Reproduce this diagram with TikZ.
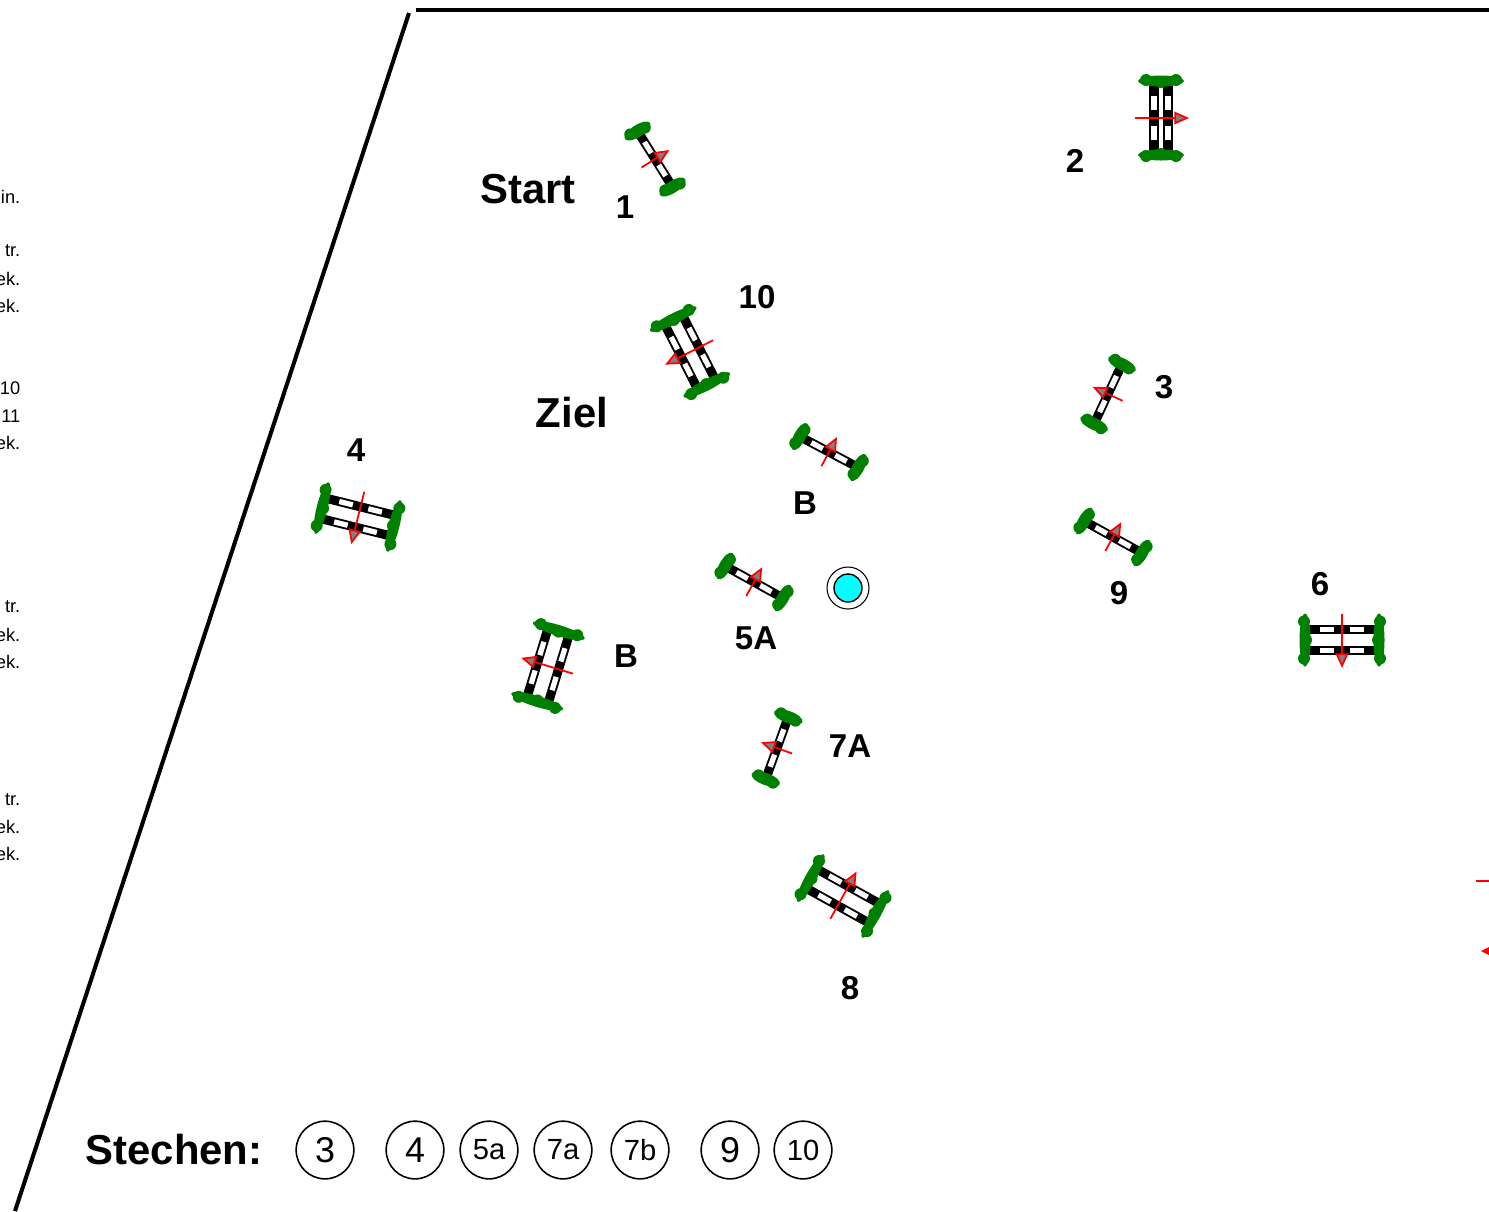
\documentclass[tikz,border=0pt]{standalone}
\usepackage{fontspec}
\setmainfont{Liberation Sans}
\usepackage{tikz}
\usetikzlibrary{arrows.meta}
\usetikzlibrary{positioning}
\tikzset{
    stange/.style={line width=2.6pt, color=black},
    stangeweiss/.style={line width=1.5pt, color=white},
    hecke/.style={fill=MyHecke, draw=none},
    richtung/.style={
      color=red,
      line width=0.5pt,
      -{Triangle[length=4.2pt,width=3.6pt,fill=gray]}
    },
    nummer/.style={font=\fontsize{9.4pt}{10pt}\selectfont\bfseries, inner sep=0pt},
    titel/.style={font=\fontsize{11.9pt}{13pt}\selectfont\bfseries, inner sep=0pt},
    rest/.style={font=\fontsize{5.2pt}{6pt}\selectfont, anchor=east, inner sep=0pt},
    stechen/.style={
      circle,
      draw,
      line width=0.45pt,
      minimum size=16.4pt,
      inner sep=0pt,
      font=\fontsize{10.2pt}{11pt}\selectfont
    },
    stechenklein/.style={stechen, font=\fontsize{8.3pt}{9pt}\selectfont},
    pics/steil/.style={code={
      \draw[stange] (0,-31) -- (0,31);
      \draw[stangeweiss] (0,-20) -- (0,-7) (0,7) -- (0,20);
      \fill[hecke] (0,-33) ellipse (15 and 6) (-8,-34) circle (6) (8,-32) circle (6);
      \fill[hecke] (0,33) ellipse (15 and 6) (-8,32) circle (6) (8,34) circle (6);
      \draw[richtung] (-16,0) -- (17,0);
    }},
    pics/oxer/.style={code={
      \draw[stange] (-#1,-35) -- (-#1,35) (#1,-35) -- (#1,35);
      \draw[stangeweiss] (-#1,-22) -- (-#1,-8) (-#1,8) -- (-#1,22)
                         (#1,-22) -- (#1,-8) (#1,8) -- (#1,22);
      \fill[hecke] (0,-37) ellipse ({#1+16} and 5.5) (-#1-8,-38) circle (6) (0,-36) circle (6) (#1+8,-38) circle (6);
      \fill[hecke] (0,37) ellipse ({#1+16} and 5.5) (-#1-8,38) circle (6) (0,36) circle (6) (#1+8,38) circle (6);
      \draw[richtung] (-26,0) -- (28,0);
    }},
}
\definecolor{MyHecke}{rgb}{0.0,0.5,0.0}
\definecolor{MyWasser}{rgb}{0.0,1.0,1.0}

\begin{document}
\begin{tikzpicture}[x=0.01cm,y=-0.01cm]
    \useasboundingbox (0,0) rectangle (1489,1211);

    % Platzrand
    \draw[line width=1.15pt] (416,10) -- (1489,10);
    \draw[line width=1.15pt] (409,13) -- (15,1211);

    % abgeschnittener Text links
    \draw (21,197) node[rest] (R1) {in.};
    \draw (21,251) node[rest] (R2) {tr.};
    \draw (21,279) node[rest] (R3) {ek.};
    \draw (21,306) node[rest] (R4) {ek.};
    \draw (21,388) node[rest] (R5) {10};
    \draw (21,416) node[rest] (R6) {11};
    \draw (21,443) node[rest] (R7) {ek.};
    \draw (21,607) node[rest] (R8) {tr.};
    \draw (21,635) node[rest] (R9) {ek.};
    \draw (21,662) node[rest] (R10) {ek.};
    \draw (21,800) node[rest] (R11) {tr.};
    \draw (21,827) node[rest] (R12) {ek.};
    \draw (21,854) node[rest] (R13) {ek.};

    % Hindernisse
    \pic[rotate=32] at (655,159) {steil};
    \pic[rotate=0] at (1161,118) {oxer=7};
    \pic[rotate=155] at (1108,394) {steil};
    \pic[rotate=-104] at (358,517) {oxer=10.5};
    \pic[rotate=61] at (754,582) {steil};
    \pic[rotate=62] at (829,452) {steil};
    \pic[rotate=-90] at (1342,640) {oxer=10.5};
    \pic[rotate=160] at (777,748) {steil};
    \pic[rotate=61] at (843,896) {oxer=11};
    \pic[rotate=61] at (1113,537) {steil};
    \pic[rotate=207] at (690,352) {oxer=10};
    \pic[rotate=163] at (548,666) {oxer=11};

    % Wasser
    \draw[line width=0.3pt,fill=white] (848,588) circle (21);
    \draw[line width=0.4pt,fill=MyWasser] (848,588) circle (14);

    % Reste am rechten Rand
    \draw[red,line width=0.6pt] (1476,881) -- (1489,881);
    \fill[red] (1481,951) -- (1489,947) -- (1489,955) -- cycle;

    % Beschriftung
    \draw (528,189) node[titel] (Start) {Start};
    \draw (572,413) node[titel] (Ziel) {Ziel};
    \draw (625,207) node[nummer] (N1) {1};
    \draw (1075,161) node[nummer] (N2) {2};
    \draw (1164,387) node[nummer] (N3) {3};
    \draw (356,450) node[nummer] (N4) {4};
    \draw (756,638) node[nummer] (N5A) {5A};
    \draw (1320,584) node[nummer] (N6) {6};
    \draw (850,746) node[nummer] (N7A) {7A};
    \draw (850,988) node[nummer] (N8) {8};
    \draw (1119,593) node[nummer] (N9) {9};
    \draw (757,297) node[nummer] (N10) {10};
    \draw (805,503) node[nummer] (NB1) {B};
    \draw (626,656) node[nummer] (NB2) {B};

    % Stechen
    \draw (174,1150) node[titel] (Stechen) {Stechen:};
    \draw (325,1150) node[stechen] (S3) {3};
    \draw (415,1150) node[stechen] (S4) {4};
    \draw (489,1150) node[stechenklein] (S5a) {5a};
    \draw (563,1150) node[stechenklein] (S7a) {7a};
    \draw (640,1150) node[stechenklein] (S7b) {7b};
    \draw (730,1150) node[stechen] (S9) {9};
    \draw (803,1150) node[stechenklein] (S10) {10};
\end{tikzpicture}
\end{document}
